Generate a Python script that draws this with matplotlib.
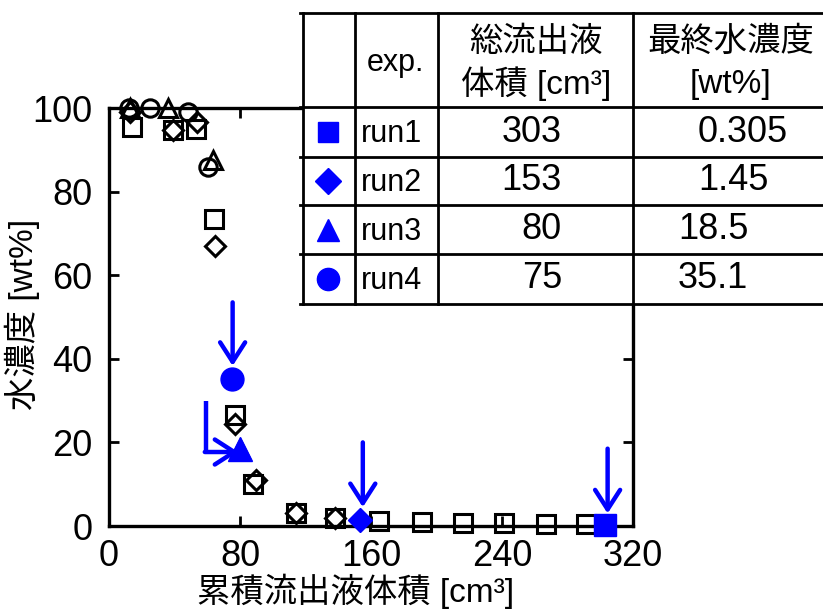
import matplotlib
matplotlib.use('Agg')
import matplotlib.pyplot as plt
import matplotlib.patches as mpatches

plt.rcParams['font.family'] = ['Liberation Sans', 'Noto Sans CJK JP']

# hollow black series (cumulative volume [cm3], water conc. [wt%])
run1_x = [14, 39, 53, 64, 77, 88, 114, 138, 165, 191, 216, 241, 267, 291, 303]
run1_y = [95.5, 94.8, 95, 73.5, 26.5, 10, 3.2, 2, 1.2, 0.9, 0.7, 0.6, 0.5, 0.4, 0.305]
run2_x = [13, 39, 54, 65, 77, 90, 114, 138, 153]
run2_y = [99, 94.7, 96.6, 67, 24.5, 11, 3, 2, 1.45]
run3_x = [13, 36, 63.5, 80]
run3_y = [100, 100, 87.5, 18.5]
run4_x = [12, 25, 48, 60.5, 75]
run4_y = [100, 100, 99, 86, 35.1]

# table / final points
runs = ['run1', 'run2', 'run3', 'run4']
total_vol = [303, 153, 80, 75]
final_conc = [0.305, 1.45, 18.5, 35.1]
conc_txt = ['0.305', '1.45', '18.5', '35.1']
markers = ['s', 'D', '^', 'o']
BLUE = '#0000ff'

fig = plt.figure(figsize=(8.23, 6.09), dpi=100)
ax = fig.add_axes([109/823, 1-526/609, 524/823, 418/609])

hollow = dict(ls='none', mfc='none', mec='black', mew=2.2, clip_on=False, zorder=3)
ax.plot(run1_x, run1_y, marker='s', ms=13.5, **hollow)
ax.plot(run2_x, run2_y, marker='D', ms=10.5, **hollow)
ax.plot(run3_x, run3_y, marker='^', ms=12.5, **hollow)
ax.plot(run4_x, run4_y, marker='o', ms=12.5, **hollow)

blue_ms = [15.5, 12, 17, 16.5]
for m, x, y, s in zip(markers, total_vol, final_conc, blue_ms):
    ax.plot([x], [y], marker=m, ms=s, color=BLUE, mec=BLUE, ls='none',
            clip_on=False, zorder=4)

# arrows pointing at the final points
aprops = dict(arrowstyle='->,head_length=0.7,head_width=0.45', lw=3.2, color=BLUE,
              shrinkA=0, shrinkB=0, mutation_scale=20)
down_arrows = [((304.5, 18.5), (304.5, 3.0)), ((155, 20), (155, 4.5)), ((75.5, 53.5), (75.5, 38.3))]
for start, tip in down_arrows:
    ax.annotate('', xy=tip, xytext=start, arrowprops=aprops, annotation_clip=False)
ax.plot([59, 59], [30, 17.7], color=BLUE, lw=3.2, solid_capstyle='butt', zorder=5)
ax.annotate('', xy=(79, 17.7), xytext=(58.5, 17.7), arrowprops=aprops)

ax.set_xlim(0, 320)
ax.set_ylim(0, 100)
ax.set_xticks([0, 80, 160, 240, 320])
ax.set_yticks([0, 20, 40, 60, 80, 100])
ax.tick_params(direction='in', top=True, right=True, length=7, width=2,
               labelsize=26)
ax.tick_params(axis='x', pad=9)
ax.tick_params(axis='y', pad=12)
for sp in ax.spines.values():
    sp.set_linewidth(2.4)
ax.set_xlabel('累積流出液体積 [cm³]', fontsize=24)
ax.set_ylabel('水濃度 [wt%]', fontsize=24)
ax.xaxis.set_label_coords(0.47, -0.115)
ax.yaxis.set_label_coords(-0.132, 0.505)

# table overlay in pixel coordinates
tax = fig.add_axes([0, 0, 1, 1], zorder=5)
tax.set_xlim(0, 823)
tax.set_ylim(609, 0)
tax.axis('off')
tax.patch.set_visible(False)
tax.add_patch(mpatches.Rectangle((303, 13), 530, 291, facecolor='white', edgecolor='none'))
row_lines = [13, 107, 157, 205, 254, 304]
col_lines = [303, 355, 438, 633]
for yl in row_lines:
    tax.plot([300, 823], [yl, yl], color='black', lw=2)
for xl in col_lines:
    tax.plot([xl, xl], [13, 304], color='black', lw=2)

tax.text(395, 63, 'exp.', ha='center', va='center', fontsize=22)
tax.text(536, 42, '総流出液', ha='center', va='center', fontsize=24)
tax.text(536, 84, '体積 [cm³]', ha='center', va='center', fontsize=24)
tax.text(731, 42, '最終水濃度', ha='center', va='center', fontsize=24)
tax.text(731, 84, '[wt%]', ha='center', va='center', fontsize=24)

row_y = [132, 181, 229.5, 279]
conc_x = [698, 698, 678, 678]
sym_ms = [14, 13, 16, 16]
for i in range(4):
    tax.plot([328], [row_y[i]], marker=markers[i], ms=sym_ms[i], color=BLUE, ls='none')
    tax.text(361, row_y[i] + 2, runs[i], ha='left', va='center', fontsize=22)
    tax.text(562, row_y[i], str(total_vol[i]), ha='right', va='center', fontsize=26)
    tax.text(conc_x[i], row_y[i], conc_txt[i], ha='left', va='center', fontsize=26)

fig.savefig('out.png', dpi=100)
